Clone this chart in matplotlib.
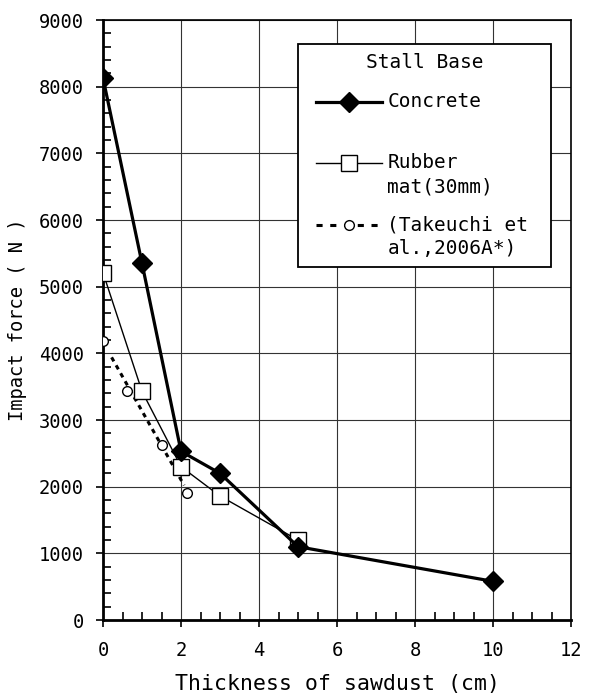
import numpy as np
import matplotlib.pyplot as plt
from matplotlib.lines import Line2D
from matplotlib.legend_handler import HandlerLine2D
from matplotlib.ticker import MultipleLocator

plt.rcParams['font.family'] = ['DejaVu Sans Mono']

# Concrete stall base
concrete_x = [0, 1, 2, 3, 5, 10]
concrete_y = [8130, 5350, 2530, 2200, 1100, 580]

# Rubber mat (30mm)
rubber_x = [0, 1, 2, 3, 5]
rubber_y = [5210, 3430, 2300, 1860, 1200]

# Takeuchi et al., 2006A*
takeuchi_x = [0, 0.62, 1.5, 2.15]
takeuchi_y = [4180, 3430, 2620, 1900]
takeuchi_fit_x = [0.22, 2.08]
takeuchi_fit_y = [3940, 2020]


class FirstLineHandler(HandlerLine2D):
    # handle level with the first line of a two line label, indented a little
    def __init__(self, yshift, xshift, **kw):
        super().__init__(**kw)
        self.yshift = yshift
        self.xshift = xshift

    def create_artists(self, legend, orig_handle, xdescent, ydescent, width, height, fontsize, trans):
        artists = super().create_artists(legend, orig_handle, xdescent, ydescent, width, height, fontsize, trans)
        x0, x1 = -xdescent + self.xshift, -xdescent + width
        for a in artists:
            n = len(a.get_xdata())
            if n == 1:
                a.set_xdata([(x0 + x1) / 2])
            else:
                a.set_xdata(np.linspace(x0, x1, n))
            a.set_ydata(np.asarray(a.get_ydata(), dtype=float) + self.yshift)
        return artists


fig = plt.figure(figsize=(5.9, 6.95), dpi=100)
ax = fig.add_axes([0.1746, 0.1079, 0.7932, 0.8633])

dots = (0, (1.5, 1.5))
ax.plot(takeuchi_fit_x, takeuchi_fit_y, color="black", linewidth=2.2, linestyle=dots, zorder=3)
ax.plot(takeuchi_x, takeuchi_y, linestyle="none", marker="o", markersize=7,
        markerfacecolor="white", markeredgecolor="black", markeredgewidth=1.0, zorder=4)
ax.plot(rubber_x, rubber_y, color="black", linewidth=1.0, marker="s", markersize=11,
        markerfacecolor="white", markeredgecolor="black", markeredgewidth=1.0, zorder=5)
ax.plot(concrete_x, concrete_y, color="black", linewidth=2.3, marker="D", markersize=10,
        markerfacecolor="black", zorder=6)

ax.set_xlim(0, 12)
ax.set_ylim(0, 9000)
ax.xaxis.set_major_locator(MultipleLocator(2))
ax.xaxis.set_minor_locator(MultipleLocator(0.5))
ax.yaxis.set_major_locator(MultipleLocator(1000))
ax.yaxis.set_minor_locator(MultipleLocator(200))
ax.tick_params(which="major", direction="out", length=5, width=1.2, labelsize=13.5, colors="black")
ax.tick_params(axis="y", which="major", pad=9)
ax.tick_params(axis="x", which="major", pad=10)
ax.tick_params(which="minor", direction="in", length=6, width=1.2)
ax.grid(True, which="major", color="#333333", linewidth=0.8)
for side in ["left", "bottom"]:
    ax.spines[side].set_linewidth(2)
for side in ["right", "top"]:
    ax.spines[side].set_linewidth(1.2)

ax.set_xlabel("Thickness of sawdust (cm)", fontsize=15.5, labelpad=10)
ax.set_ylabel("Impact force ( N )", fontsize=13.5, labelpad=8)

h_concrete = Line2D([], [], color="black", linewidth=2.3, marker="D", markersize=10)
h_rubber = Line2D([], [], color="black", linewidth=1.0, marker="s", markersize=11,
                  markerfacecolor="white")
h_takeuchi = Line2D([], [], color="black", linewidth=2.2, linestyle=(0, (2, 2.5)), marker="o",
                    markersize=7, markerfacecolor="white", markeredgewidth=1.0)
handles = [h_concrete, h_rubber, h_takeuchi]
labels = ["Concrete\n", "Rubber\nmat(30mm)", "(Takeuchi et\nal.,2006A*)"]
leg = ax.legend(handles, labels, title="Stall Base", loc="upper left",
                bbox_to_anchor=(0.4167, 0.595, 0.5406, 0.365), mode="expand",
                borderaxespad=0, fontsize=14, title_fontsize=14,
                handlelength=3.85, handletextpad=0.3, labelspacing=0.95,
                borderpad=0.45, frameon=True, fancybox=False, framealpha=1,
                handler_map={Line2D: FirstLineHandler(9.0, 6.5)})
for t in leg.get_texts():
    t.set_linespacing(1.35)
leg._legend_box.sep = 14.4
leg.get_frame().set_edgecolor("black")
leg.get_frame().set_linewidth(1.3)

fig.savefig("out.png", dpi=100)
